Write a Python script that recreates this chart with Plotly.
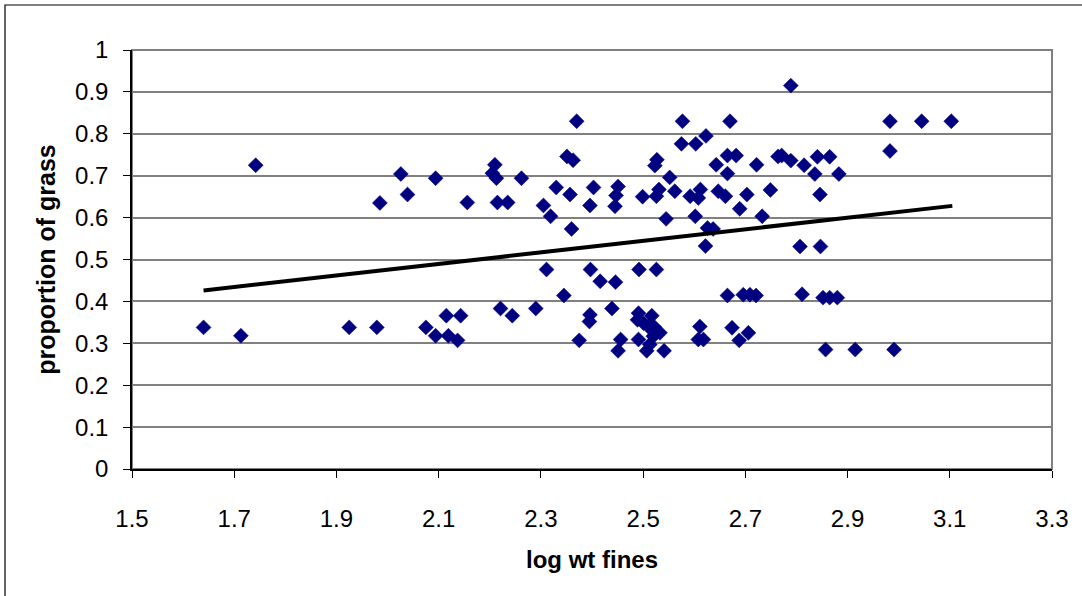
import plotly.graph_objects as go

log_wt_fines = [
    1.640, 1.713, 1.742, 1.925, 1.979, 1.985, 2.026, 2.039, 2.075, 2.094,
    2.094, 2.115, 2.119, 2.137, 2.143, 2.156, 2.205, 2.210, 2.213, 2.215,
    2.221, 2.235, 2.244, 2.262, 2.290, 2.305, 2.311, 2.319, 2.330, 2.345,
    2.351, 2.357, 2.360, 2.363, 2.370, 2.375, 2.395, 2.396, 2.396, 2.397,
    2.403, 2.416, 2.439, 2.445, 2.446, 2.447, 2.451, 2.451, 2.456, 2.489,
    2.491, 2.491, 2.492, 2.499, 2.501, 2.507, 2.510, 2.513, 2.517, 2.521,
    2.520, 2.523, 2.526, 2.526, 2.527, 2.531, 2.533, 2.541, 2.545, 2.552,
    2.562, 2.575, 2.577, 2.592, 2.602, 2.603, 2.608, 2.608, 2.611, 2.612,
    2.618, 2.622, 2.623, 2.626, 2.637, 2.643, 2.647, 2.661, 2.665, 2.665,
    2.665, 2.670, 2.674, 2.682, 2.688, 2.689, 2.696, 2.703, 2.706, 2.709,
    2.721, 2.722, 2.733, 2.749, 2.764, 2.771, 2.789, 2.789, 2.807, 2.811,
    2.815, 2.836, 2.841, 2.846, 2.847, 2.852, 2.857, 2.865, 2.865, 2.880,
    2.883, 2.915, 2.983, 2.983, 2.991, 3.045, 3.103,
]
proportion_grass = [
    0.338, 0.318, 0.725, 0.338, 0.338, 0.635, 0.704, 0.655, 0.338, 0.694,
    0.318, 0.366, 0.318, 0.307, 0.366, 0.636, 0.706, 0.726, 0.694, 0.636,
    0.383, 0.636, 0.366, 0.694, 0.383, 0.629, 0.476, 0.603, 0.672, 0.414,
    0.746, 0.655, 0.573, 0.737, 0.830, 0.307, 0.352, 0.368, 0.629, 0.476,
    0.672, 0.448, 0.383, 0.627, 0.446, 0.653, 0.674, 0.282, 0.309, 0.356,
    0.372, 0.309, 0.476, 0.650, 0.348, 0.282, 0.340, 0.297, 0.366, 0.340,
    0.317, 0.724, 0.476, 0.651, 0.738, 0.667, 0.325, 0.282, 0.597, 0.696,
    0.663, 0.776, 0.830, 0.651, 0.603, 0.776, 0.647, 0.309, 0.340, 0.667,
    0.309, 0.532, 0.795, 0.575, 0.573, 0.726, 0.663, 0.651, 0.748, 0.705,
    0.414, 0.830, 0.337, 0.748, 0.307, 0.621, 0.416, 0.655, 0.325, 0.416,
    0.414, 0.726, 0.603, 0.666, 0.746, 0.748, 0.915, 0.736, 0.531, 0.417,
    0.725, 0.704, 0.745, 0.655, 0.531, 0.409, 0.285, 0.745, 0.409, 0.409,
    0.704, 0.285, 0.830, 0.759, 0.285, 0.830, 0.830,
]

trend_x = [1.640, 3.105]
trend_y = [0.426, 0.628]

x_tick_vals = [1.5, 1.7, 1.9, 2.1, 2.3, 2.5, 2.7, 2.9, 3.1, 3.3]
x_tick_text = ["1.5", "1.7", "1.9", "2.1", "2.3", "2.5", "2.7", "2.9", "3.1", "3.3"]
y_tick_vals = [0, 0.1, 0.2, 0.3, 0.4, 0.5, 0.6, 0.7, 0.8, 0.9, 1.0]
y_tick_text = ["0", "0.1", "0.2", "0.3", "0.4", "0.5", "0.6", "0.7", "0.8", "0.9", "1"]

FONT = "Liberation Sans, Arial, sans-serif"

# outer frame (only left and top edges visible in the picture)
fx0 = (5 - 132) / 920
fy1 = (469 - 5) / 419
frame_path = f"M {fx0},-0.5 L {fx0},{fy1} L 1.2,{fy1}"

fig = go.Figure()
fig.add_trace(go.Scatter(
    x=log_wt_fines, y=proportion_grass, mode="markers",
    marker=dict(symbol="diamond", size=11.5, color="#000080",
                line=dict(width=0.5, color="#000080")),
    showlegend=False, cliponaxis=False,
))
fig.add_trace(go.Scatter(
    x=trend_x, y=trend_y, mode="lines",
    line=dict(color="black", width=4), showlegend=False,
))

fig.update_layout(
    width=1082, height=596,
    margin=dict(l=132, r=30, t=50, b=127),
    paper_bgcolor="white", plot_bgcolor="white",
    font=dict(family=FONT, size=24, color="black"),
    shapes=[
        dict(type="rect", xref="paper", yref="paper", x0=0, x1=1, y0=0, y1=1,
             line=dict(color="#808080", width=2), layer="below"),
        dict(type="path", xref="paper", yref="paper", path=frame_path,
             line=dict(color="black", width=1.2), layer="below"),
    ],
)
fig.update_xaxes(
    range=[1.5, 3.3], tickmode="array", tickvals=x_tick_vals, ticktext=x_tick_text,
    tickfont=dict(family=FONT, size=24),
    showgrid=False, zeroline=False, showline=True, linecolor="black", linewidth=1.5,
    ticks="outside", ticklen=7, tickcolor="black", tickwidth=1,
    ticklabelstandoff=20,
    title=dict(text="<b>log wt fines</b>", font=dict(family=FONT, size=24), standoff=21),
)
fig.update_yaxes(
    range=[0, 1], tickmode="array", tickvals=y_tick_vals, ticktext=y_tick_text,
    tickfont=dict(family=FONT, size=24),
    showgrid=True, gridcolor="#808080", gridwidth=1.5, zeroline=False,
    showline=True, linecolor="black", linewidth=1.5,
    ticks="outside", ticklen=7, tickcolor="black", tickwidth=1,
    ticklabelstandoff=10,
    title=dict(text="<b>proportion of grass</b>", font=dict(family=FONT, size=25), standoff=12),
)

fig.write_html("out.html")
